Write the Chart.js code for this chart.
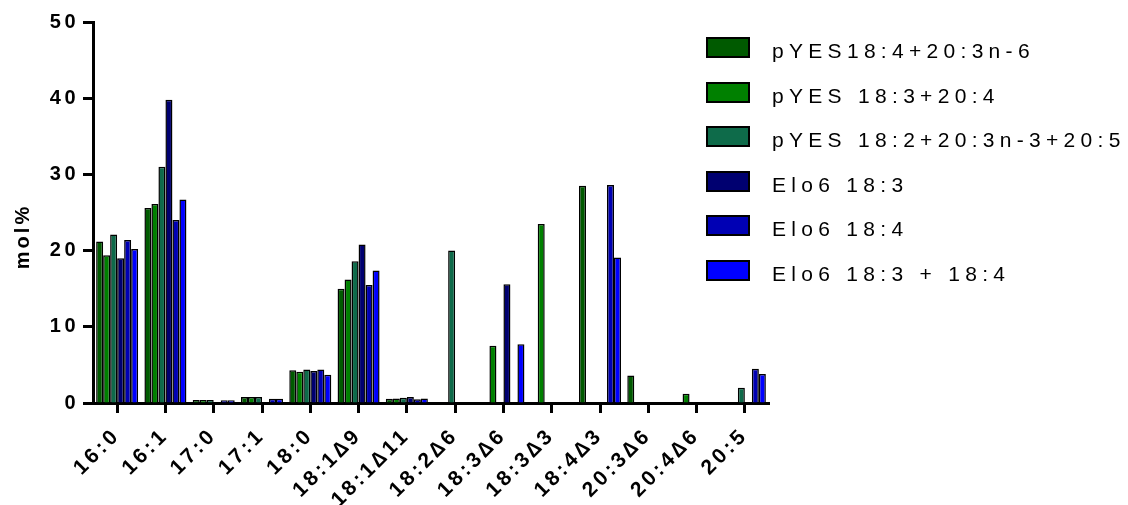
<!DOCTYPE html>
<html>
<head>
<meta charset="utf-8">
<script src="https://cdn.jsdelivr.net/npm/chart.js@4.4.1/dist/chart.umd.min.js"></script>
<style>
  html, body { margin: 0; padding: 0; background: #fff; }
  #wrap { position: relative; width: 1128px; height: 505px; overflow: hidden; }
  #chart { position: absolute; left: 0; top: 0; }
  #legend { position: absolute; left: 0; top: 0; }
  .lg-box { position: absolute; width: 40px; height: 17px; border: 2px solid #000; }
  .lg-text { position: absolute; font-family: "Liberation Sans", Arial, sans-serif; font-size: 21px;
             line-height: 24px; letter-spacing: 5.3px; color: #000; white-space: nowrap; }
</style>
</head>
<body>
<div id="wrap">
  <canvas id="chart" width="1128" height="505"></canvas>
  <div id="legend"></div>
</div>
<script>
// fatty acid categories
const categories = ['16:0', '16:1', '17:0', '17:1', '18:0', '18:1\u22069', '18:1\u220611',
    '18:2\u22066', '18:3\u22066', '18:3\u22063', '18:4\u22063', '20:3\u22066', '20:4\u22066', '20:5'];

const seriesNames = ['pYES18:4+20:3n-6', 'pYES 18:3+20:4', 'pYES 18:2+20:3n-3+20:5',
    'Elo6 18:3', 'Elo6 18:4', 'Elo6 18:3 + 18:4'];
const seriesColors = ['#005a00', '#008000', '#0e6b4a', '#000070', '#0000b4', '#0000ff'];

// mol% values
const pyes184 = [21.2, 25.6, 0.4, 0.8, 4.3, 15.0, 0.55, 0, 0, 0, 28.5, 3.6, 0, 0];
const pyes183 = [19.4, 26.1, 0.4, 0.8, 4.1, 16.2, 0.6, 0, 7.5, 23.5, 0, 0, 1.2, 0];
const pyes182 = [22.1, 31.0, 0.4, 0.8, 4.4, 18.6, 0.7, 20.0, 0, 0, 0, 0, 0, 2.0];
const elo183 = [19.0, 39.8, 0, 0, 4.2, 20.8, 0.8, 0, 15.6, 0, 0, 0, 0, 0];
const elo184 = [21.4, 24.0, 0.35, 0.55, 4.4, 15.5, 0.5, 0, 0, 0, 28.6, 0, 0, 4.5];
const eloBoth = [20.2, 26.7, 0.35, 0.55, 3.7, 17.4, 0.6, 0, 7.7, 0, 19.1, 0, 0, 3.8];

const yTicks = [0, 10, 20, 30, 40, 50];

const allSeries = [pyes184, pyes183, pyes182, elo183, elo184, eloBoth];
const datasets = allSeries.map((vals, i) => ({
    label: seriesNames[i],
    data: vals,
    backgroundColor: seriesColors[i],
    borderColor: '#000',
    borderWidth: 1.5,
    categoryPercentage: 0.87,
    barPercentage: 1.0
}));

const fontFamily = '"Liberation Sans", Arial, sans-serif';
const yTickFont = { family: fontFamily, size: 20, weight: 'bold' };
const xTickFont = { family: fontFamily, size: 21, weight: 'bold' };

// letter spacing for all canvas text (Prism-like look)
const spacingPlugin = {
    id: 'spacing',
    beforeUpdate(chart) { chart.ctx.letterSpacing = '3.5px'; },
    beforeDraw(chart) { chart.ctx.letterSpacing = '3.5px'; }
};

// y axis title placed like the original
const yTitlePlugin = {
    id: 'yTitle',
    afterDraw(chart) {
        const ctx = chart.ctx;
        ctx.save();
        ctx.letterSpacing = '3px';
        ctx.translate(23, 238);
        ctx.rotate(-Math.PI / 2);
        ctx.font = 'bold 20px ' + fontFamily;
        ctx.fillStyle = '#000';
        ctx.textAlign = 'center';
        ctx.textBaseline = 'middle';
        ctx.fillText('mol%', 1.5, 0);
        ctx.restore();
    }
};

// html legend built from the datasets
const htmlLegend = {
    id: 'htmlLegend',
    afterUpdate(chart) {
        const box = document.getElementById('legend');
        box.innerHTML = '';
        chart.data.datasets.forEach((ds, i) => {
            const sw = document.createElement('div');
            sw.className = 'lg-box';
            sw.style.left = '706px';
            sw.style.top = (37 + i * 44.6) + 'px';
            sw.style.background = ds.backgroundColor;
            const tx = document.createElement('div');
            tx.className = 'lg-text';
            tx.style.left = '772px';
            tx.style.top = (39 + i * 44.6) + 'px';
            tx.textContent = ds.label;
            box.appendChild(sw);
            box.appendChild(tx);
        });
    }
};

const ctx = document.getElementById('chart').getContext('2d');
const fattyChart = new Chart(ctx, {
    type: 'bar',
    data: { labels: categories, datasets: datasets },
    plugins: [spacingPlugin, yTitlePlugin, htmlLegend],
    options: {
        responsive: false,
        animation: false,
        layout: { padding: { top: 22, right: 359, bottom: 0, left: 0 } },
        plugins: {
            legend: { display: false },
            tooltip: { enabled: false }
        },
        scales: {
            x: {
                offset: true,
                grid: { display: true, offset: false, drawOnChartArea: false, tickLength: 10, tickWidth: 3, tickColor: '#000' },
                border: { display: true, width: 3, color: '#000' },
                ticks: { autoSkip: false, maxRotation: 45, minRotation: 45, color: '#000', font: xTickFont, padding: 10 },
                afterFit(scale) { scale.height = 102; }
            },
            y: {
                min: 0,
                max: 50,
                afterBuildTicks(scale) { scale.ticks = yTicks.map(v => ({ value: v })); },
                grid: { display: true, drawOnChartArea: false, tickLength: 10, tickWidth: 3, tickColor: '#000' },
                border: { display: true, width: 3, color: '#000' },
                ticks: { color: '#000', font: yTickFont, padding: 4 },
                afterFit(scale) { scale.width = 93; }
            }
        }
    }
});
</script>
</body>
</html>
